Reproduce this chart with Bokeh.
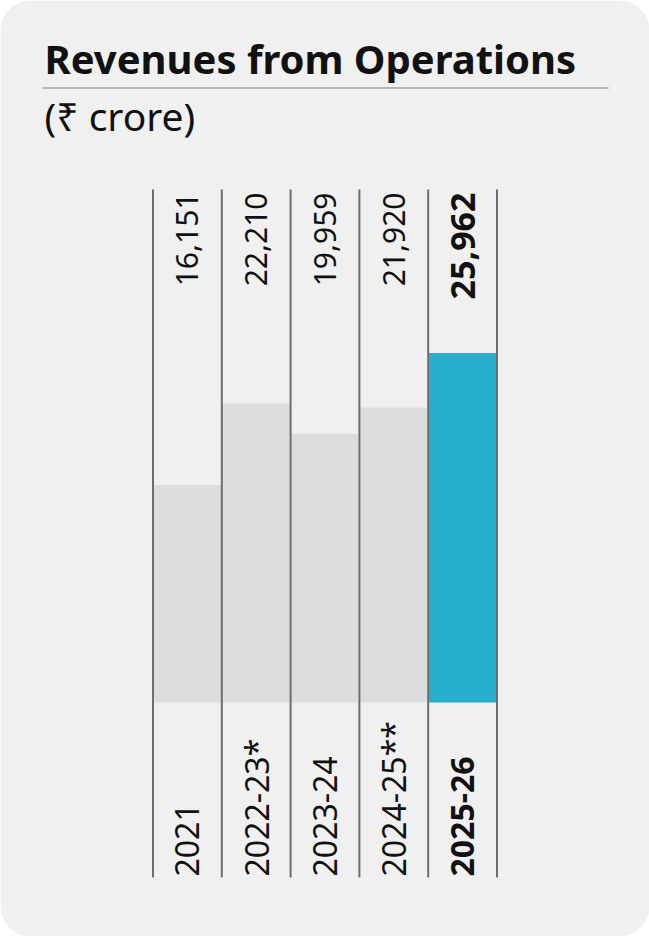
import math
from bokeh.plotting import figure
from bokeh.models import ColumnDataSource, FactorRange, Range1d, Label, BoxAnnotation
from bokeh.transform import dodge
from bokeh.core.properties import value
from bokeh.embed import file_html
from bokeh.resources import INLINE

# ---- data ----
categories = ["2021", "2022-23", "2023-24", "2024-25", "2025-26"]
category_labels = ["2021", "2022-23*", "2023-24", "2024-25**", "2025-26"]
revenues = [16151, 22210, 19959, 21920, 25962]
highlight = [False, False, False, False, True]
title_text = "Revenues from Operations"
subtitle_text = "(\u20b9 crore)"

# ---- layout helpers (reference pixel coords -> figure coords) ----
W, H = 649, 936
COL_W = 68.8
PX_PER_UNIT = 0.013462
BASE_REF_Y = 702
LABEL_FIX = 15  # Label baseline correction in px

def dy(ref_y):
    return (BASE_REF_Y - ref_y) / PX_PER_UNIT

def sy(ref_y):
    return H - ref_y

FONT = "Noto Sans"
CARD = "#f0f0f0"
GRAY_BAR = "#dcdddf"
BLUE_BAR = "#28afd0"
LINE = "#6e6e6e"
TEXT = "#111111"

pad = (W / COL_W - len(categories)) / 2

p = figure(
    width=W, height=H,
    x_range=FactorRange(factors=categories, range_padding=pad,
                        range_padding_units="absolute", factor_padding=0),
    y_range=Range1d(start=dy(H), end=dy(0)),
    output_backend="svg", toolbar_location=None,
    x_axis_location=None, y_axis_location=None,
    min_border=0, outline_line_color=None,
    background_fill_color="white", border_fill_color="white",
)
p.xgrid.visible = False
p.ygrid.visible = False

# card
card = BoxAnnotation(left=0, right=W, bottom=0, top=H,
                     left_units="screen", right_units="screen",
                     top_units="screen", bottom_units="screen",
                     fill_color=CARD, fill_alpha=1.0, line_color=None,
                     border_radius=30, level="underlay")
p.add_layout(card)

src = ColumnDataSource(dict(
    cat=categories,
    value=revenues,
    value_text=[f"{v:,}" for v in revenues],
    cat_text=category_labels,
    fill=[BLUE_BAR if h else GRAY_BAR for h in highlight],
    style=["bold" if h else "normal" for h in highlight],
    vsize=["34px" if h else "30px" for h in highlight],
))

p.vbar(x="cat", top="value", bottom=0, width=1.0, fill_color="fill",
       line_color=None, source=src)

# column separators
last_src = ColumnDataSource(dict(cat=categories[-1:]))
p.segment(x0=dodge("cat", -0.5, range=p.x_range), x1=dodge("cat", -0.5, range=p.x_range),
          y0=dy(877), y1=dy(189), line_color=LINE, line_width=2, source=src)
p.segment(x0=dodge("cat", 0.5, range=p.x_range), x1=dodge("cat", 0.5, range=p.x_range),
          y0=dy(877), y1=dy(189), line_color=LINE, line_width=2, source=last_src)

# value labels (top)
p.text(x="cat", y=dy(192), text="value_text", angle=math.pi / 2,
       text_align="right", text_baseline="middle",
       text_font=value(FONT), text_font_size="vsize", text_font_style="style",
       text_color=TEXT, source=src)

# category labels (bottom)
p.text(x="cat", y=dy(876), text="cat_text", angle=math.pi / 2,
       text_align="left", text_baseline="middle",
       text_font=value(FONT), text_font_size="32px", text_font_style="style",
       text_color=TEXT, source=src)

# title, rule, subtitle
p.add_layout(Label(x=44, y=sy(73 - LABEL_FIX), x_units="screen", y_units="screen",
                   text=title_text, text_font=FONT, text_font_size="40px",
                   text_font_style="bold", text_color=TEXT,
                   text_baseline="alphabetic", text_align="left"))
p.add_layout(BoxAnnotation(left=42, right=608, top=sy(86.5), bottom=sy(88.5),
                           left_units="screen", right_units="screen",
                           top_units="screen", bottom_units="screen",
                           fill_color="#b4b4b4", fill_alpha=1.0, line_color=None))
p.add_layout(Label(x=44, y=sy(130 - LABEL_FIX), x_units="screen", y_units="screen",
                   text=subtitle_text, text_font=FONT, text_font_size="39px",
                   text_font_style="normal", text_color=TEXT,
                   text_baseline="alphabetic", text_align="left"))

open("out.html", "w").write(file_html(p, INLINE))
